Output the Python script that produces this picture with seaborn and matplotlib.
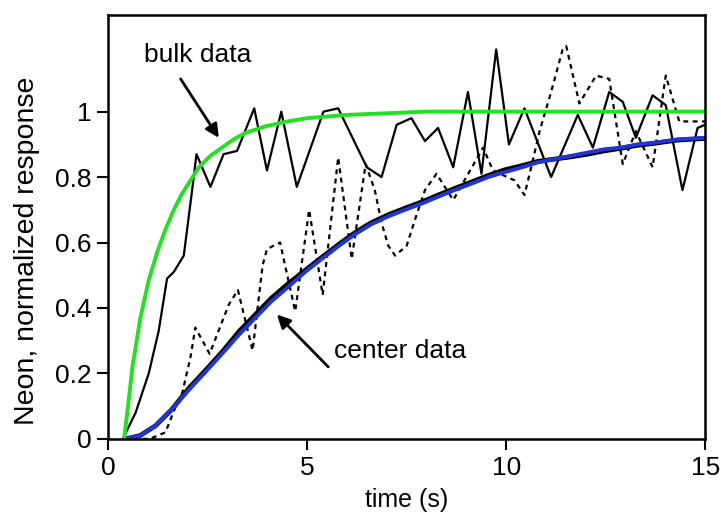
import matplotlib
matplotlib.use("Agg")
import matplotlib.pyplot as plt
import seaborn as sns
import pandas as pd

# ---- data ----
bulk_t = [0.37, 0.69, 1.02, 1.27, 1.48, 1.65, 1.90, 2.11, 2.22, 2.57, 2.90, 3.24, 3.67, 3.99,
          4.35, 4.74, 5.41, 5.78, 6.50, 6.87, 7.25, 7.62, 7.96, 8.29, 8.67, 9.04, 9.38, 9.75,
          10.07, 10.46, 11.13, 11.80, 12.18, 12.59, 12.93, 13.26, 13.68, 14.01, 14.43, 14.81, 15.0]
bulk_y = [0.00, 0.08, 0.20, 0.33, 0.49, 0.51, 0.56, 0.76, 0.87, 0.77, 0.87, 0.88, 1.01, 0.82,
          1.00, 0.77, 1.00, 1.01, 0.83, 0.80, 0.96, 0.98, 0.91, 0.95, 0.83, 1.06, 0.81, 1.19,
          0.90, 1.01, 0.80, 0.99, 0.89, 1.06, 1.03, 0.92, 1.05, 1.02, 0.76, 0.95, 0.96]

center_t = [0.40, 1.05, 1.44, 1.70, 1.86, 2.07, 2.19, 2.55, 3.03, 3.26, 3.63, 3.88, 3.99, 4.32,
            4.70, 5.05, 5.39, 5.78, 6.12, 6.47, 6.70, 6.87, 7.04, 7.21, 7.50, 7.71, 7.96, 8.25,
            8.67, 9.00, 9.42, 9.67, 10.21, 10.46, 10.63, 10.84, 11.13, 11.42, 11.51, 11.84,
            12.26, 12.59, 12.93, 13.26, 13.68, 14.01, 14.35, 14.93, 15.0]
center_y = [0.00, 0.00, 0.02, 0.10, 0.14, 0.25, 0.34, 0.26, 0.41, 0.455, 0.27, 0.53, 0.58, 0.60,
            0.39, 0.70, 0.44, 0.86, 0.55, 0.84, 0.76, 0.66, 0.59, 0.56, 0.59, 0.67, 0.76, 0.81,
            0.73, 0.80, 0.89, 0.82, 0.79, 0.745, 0.83, 0.94, 1.06, 1.19, 1.20, 1.025,
            1.11, 1.10, 0.84, 0.94, 0.83, 1.11, 0.97, 0.97, 0.97]

bulk_fit_t = [0.40, 0.50, 0.61, 0.81, 1.02, 1.23, 1.44, 1.65, 1.86, 2.07, 2.28, 2.57, 2.86,
              3.15, 3.45, 3.95, 4.50, 5.00, 6.00, 7.00, 8.00, 15.0]
bulk_fit_y = [0.00, 0.10, 0.22, 0.37, 0.485, 0.57, 0.64, 0.70, 0.75, 0.79, 0.83, 0.865, 0.89,
              0.915, 0.935, 0.955, 0.97, 0.98, 0.99, 0.995, 1.00, 1.00]

center_fit_t = [0.44, 0.80, 1.19, 1.60, 2.03, 2.45, 2.86, 3.30, 3.70, 4.10, 4.53, 4.95, 5.37,
                5.80, 6.20, 6.60, 7.04, 7.46, 7.90, 8.29, 8.70, 9.13, 9.55, 9.96, 10.40, 10.80,
                11.22, 11.64, 12.05, 12.47, 12.89, 13.30, 13.72, 14.30, 15.0]
center_fit_y = [0.00, 0.01, 0.04, 0.09, 0.15, 0.205, 0.26, 0.32, 0.37, 0.42, 0.465, 0.51, 0.55,
                0.59, 0.625, 0.655, 0.68, 0.70, 0.72, 0.74, 0.76, 0.78, 0.80, 0.815, 0.83, 0.845,
                0.855, 0.865, 0.875, 0.885, 0.89, 0.90, 0.905, 0.915, 0.92]

center_model_y = [0.00, 0.01, 0.04, 0.09, 0.155, 0.21, 0.265, 0.33, 0.38, 0.43, 0.475, 0.515, 0.555,
                  0.595, 0.63, 0.66, 0.685, 0.705, 0.725, 0.745, 0.765, 0.785, 0.805, 0.822, 0.835,
                  0.848, 0.855, 0.862, 0.870, 0.880, 0.888, 0.897, 0.903, 0.913, 0.918]

x_ticks = [0, 5, 10, 15]
x_ticklabels = ["0", "5", "10", "15"]
y_ticks = [0, 0.2, 0.4, 0.6, 0.8, 1.0]
y_ticklabels = ["0", "0.2", "0.4", "0.6", "0.8", "1"]

sns.set_style("ticks")
plt.rcParams["font.family"] = ["Liberation Sans", "DejaVu Sans"]
plt.rcParams["text.color"] = "black"
plt.rcParams["axes.labelcolor"] = "black"

fig = plt.figure(figsize=(7.21, 5.20), dpi=100)
ax = fig.add_axes([0.150, 0.156, 0.828, 0.815])

df_bulk = pd.DataFrame({"t": bulk_t, "y": bulk_y})
df_center = pd.DataFrame({"t": center_t, "y": center_y})
df_bfit = pd.DataFrame({"t": bulk_fit_t, "y": bulk_fit_y})
df_cfit = pd.DataFrame({"t": center_fit_t, "y": center_fit_y})
df_cmod = pd.DataFrame({"t": center_fit_t, "y": center_model_y})

sns.lineplot(data=df_center, x="t", y="y", ax=ax, color="black", lw=1.6,
             linestyle=(0, (2.2, 2.0)), sort=False, estimator=None)
sns.lineplot(data=df_bulk, x="t", y="y", ax=ax, color="black", lw=1.6,
             sort=False, estimator=None)
sns.lineplot(data=df_cmod, x="t", y="y", ax=ax, color="black", lw=3.4,
             sort=False, estimator=None)
sns.lineplot(data=df_cfit, x="t", y="y", ax=ax, color="#1f35d8", lw=2.8,
             sort=False, estimator=None)
sns.lineplot(data=df_bfit, x="t", y="y", ax=ax, color="#22e022", lw=2.8,
             sort=False, estimator=None)

ax.set_xlim(0, 15)
ax.set_ylim(0, 1.295)
ax.set_xticks(x_ticks)
ax.set_xticklabels(x_ticklabels)
ax.set_yticks(y_ticks)
ax.set_yticklabels(y_ticklabels)
ax.tick_params(axis="both", direction="out", length=8, width=1.5, labelsize=19,
               pad=4, colors="black")
for s in ax.spines.values():
    s.set_visible(True)
    s.set_linewidth(1.8)
    s.set_color("black")

ax.set_xlabel("time (s)", fontsize=18, color="black")
ax.set_ylabel("Neon, normalized response", fontsize=20.5, color="black")
ax.xaxis.set_label_coords(0.5, -0.115)
ax.yaxis.set_label_coords(-0.114, 0.443)

ax.text(2.24, 1.172, "bulk data", fontsize=19, ha="center", va="center", color="black")
ax.annotate("", xy=(2.78, 0.92), xytext=(1.82, 1.10),
            arrowprops=dict(arrowstyle="-|>", color="black", lw=2, mutation_scale=20,
                            shrinkA=0, shrinkB=0))
ax.text(7.33, 0.27, "center data", fontsize=19, ha="center", va="center", color="black")
ax.annotate("", xy=(4.24, 0.38), xytext=(5.53, 0.22),
            arrowprops=dict(arrowstyle="-|>", color="black", lw=2, mutation_scale=20,
                            shrinkA=0, shrinkB=0))

fig.savefig("out.png", dpi=100)
